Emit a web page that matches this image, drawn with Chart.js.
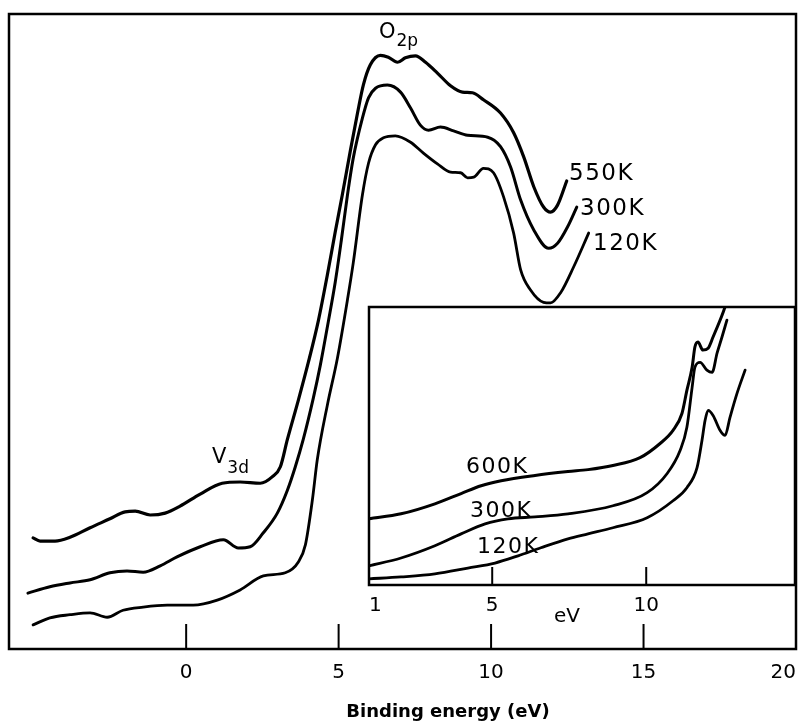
<!DOCTYPE html>
<html>
<head>
<meta charset="utf-8">
<script src="https://cdn.jsdelivr.net/npm/chart.js@4.4.1/dist/chart.umd.min.js"></script>
<style>
  html, body { margin: 0; padding: 0; background: #fff; }
  #wrap { position: relative; width: 803px; height: 722px; }
  #wrap canvas { position: absolute; left: 0; top: 0; }
</style>
</head>
<body>
<div id="wrap">
  <canvas id="mainChart" width="803" height="722"></canvas>
  <canvas id="insetChart" width="803" height="722"></canvas>
</div>
<script>
// Main spectra: binding energy (eV) vs intensity (arb. units, 0-100)
const energy550 = [-5.02, -4.79, -4.30, -3.81, -3.15, -2.50, -2.00, -1.67, -1.18, -0.69,
    -0.20, 0.46, 1.18, 1.77, 2.43, 2.82, 3.09, 3.32, 3.68, 4.01,
    4.34, 4.63, 4.89, 5.12, 5.39, 5.62, 5.81, 6.04, 6.37, 6.63,
    6.93, 7.19, 7.52, 7.85, 8.24, 8.67, 9.06, 9.39, 9.75, 10.31,
    10.74, 11.07, 11.40, 11.72, 11.95, 12.18, 12.48];
const counts550 = [17.5, 17.0, 17.0, 17.6, 19.1, 20.5, 21.6, 21.7, 21.1, 21.4,
    22.5, 24.4, 26.1, 26.3, 26.1, 27.1, 28.7, 33.0, 39.2, 45.2,
    51.8, 58.9, 65.7, 71.5, 78.6, 84.4, 88.8, 92.0, 93.5, 93.2,
    92.4, 93.1, 93.4, 92.4, 90.7, 88.7, 87.7, 87.6, 86.5, 84.4,
    81.3, 77.5, 72.8, 69.6, 68.8, 69.9, 73.7];

const energy300 = [-5.19, -4.47, -3.81, -3.15, -2.50, -1.94, -1.41, -0.85, -0.30, 0.46,
    1.22, 1.71, 2.10, 2.53, 2.99, 3.32, 3.58, 3.84, 4.17, 4.40,
    4.66, 4.89, 5.09, 5.29, 5.48, 5.78, 5.98, 6.21, 6.60, 7.03,
    7.36, 7.68, 7.95, 8.34, 8.77, 9.23, 9.89, 10.31, 10.64, 10.97,
    11.40, 11.89, 12.18, 12.51, 12.81];
const counts300 = [8.8, 9.8, 10.4, 10.9, 12.0, 12.3, 12.1, 13.1, 14.5, 16.1,
    17.2, 15.9, 16.1, 18.3, 21.4, 25.0, 28.7, 33.0, 39.5, 44.7,
    51.5, 57.8, 64.4, 71.5, 77.3, 83.6, 86.8, 88.3, 88.8, 87.7,
    85.2, 82.5, 81.7, 82.2, 81.6, 80.9, 80.6, 79.1, 75.9, 70.7,
    66.0, 63.1, 63.9, 66.5, 69.6];

const energy120 = [-5.02, -4.47, -3.81, -3.15, -2.59, -2.07, -1.41, -0.62, 0.23, 1.02,
    1.77, 2.53, 3.25, 3.68, 3.91, 4.14, 4.30, 4.63, 4.96, 5.29,
    5.48, 5.78, 5.98, 6.21, 6.47, 6.86, 7.36, 7.78, 8.24, 8.67,
    9.00, 9.23, 9.43, 9.75, 10.08, 10.41, 10.74, 10.97, 11.30, 11.72,
    11.95, 12.28, 12.71, 13.20];
const counts120 = [3.8, 4.9, 5.4, 5.7, 5.0, 6.1, 6.6, 6.9, 6.9, 7.7,
    9.3, 11.5, 12.0, 13.7, 16.4, 23.5, 29.8, 38.4, 45.8, 55.0,
    60.8, 71.5, 76.5, 79.4, 80.5, 80.8, 79.8, 78.1, 76.4, 75.1,
    75.0, 74.2, 74.3, 75.7, 75.0, 71.2, 65.5, 59.7, 56.5, 54.6,
    54.5, 56.1, 60.2, 65.5];

const mainTicks = [0, 5, 10, 15, 20];

// Inset spectra: energy (eV) vs intensity (arb. units, 0-100)
const insetEnergy600 = [1.00, 2.04, 3.14, 3.99, 4.64, 5.29, 6.39, 7.46, 8.11, 8.92,
    9.80, 10.45, 10.87, 11.16, 11.32, 11.49, 11.58, 11.68, 11.84, 12.01,
    12.17, 12.40, 12.56];
const insetCounts600 = [23.8, 25.6, 29.2, 32.9, 35.7, 37.5, 39.4, 40.8, 41.5, 43.0,
    45.8, 50.9, 55.6, 61.7, 70.0, 78.3, 85.6, 87.4, 84.5, 85.2,
    89.2, 95.3, 100.0];

const insetEnergy300 = [1.00, 2.04, 3.14, 3.99, 4.77, 5.51, 6.39, 7.46, 8.92, 10.03,
    10.68, 11.10, 11.32, 11.49, 11.58, 11.75, 11.97, 12.14, 12.30, 12.46,
    12.62];
const insetCounts300 = [6.9, 9.7, 14.1, 18.4, 22.0, 23.8, 24.5, 25.6, 28.5, 33.2,
    40.1, 48.4, 56.7, 71.1, 78.3, 80.1, 77.3, 76.5, 83.4, 89.2,
    95.3];

const insetEnergy120 = [1.00, 2.04, 3.14, 4.21, 5.09, 5.84, 6.58, 7.46, 8.11, 8.92,
    10.03, 10.87, 11.32, 11.65, 11.81, 11.91, 12.01, 12.17, 12.40, 12.56,
    12.72, 12.95, 13.21];
const insetCounts120 = [2.2, 2.9, 4.0, 6.1, 7.9, 10.5, 13.4, 16.6, 18.4, 20.6,
    24.2, 30.3, 35.0, 42.2, 52.0, 59.2, 62.8, 61.0, 55.6, 53.8,
    60.3, 69.0, 77.3];

const insetTicks = [1, 5, 10];
const insetMax = 14.83;

const FONT = '"DejaVu Sans", "Noto Sans", sans-serif';

const toPoints = (xs, ys) => xs.map((x, i) => ({ x: x, y: ys[i] }));

const curve = (label, xs, ys, width) => ({
    label: label,
    data: toPoints(xs, ys),
    borderColor: '#000',
    borderWidth: width,
    pointRadius: 0,
    fill: false,
    cubicInterpolationMode: 'monotone',
    borderCapStyle: 'round',
    borderJoinStyle: 'round'
});

// write text with a subscript part
function subText(ctx, main, sub, x, y, size, subSize, drop) {
    ctx.font = size + 'px ' + FONT;
    ctx.fillText(main, x, y);
    const w = ctx.measureText(main).width;
    ctx.font = subSize + 'px ' + FONT;
    ctx.fillText(sub, x + w + 1, y + drop);
}

const mainDecor = {
    id: 'mainDecor',
    afterDraw(chart) {
        const ctx = chart.ctx;
        const a = chart.chartArea;
        const xs = chart.scales.x;
        ctx.save();
        ctx.strokeStyle = '#000';
        ctx.lineWidth = 2.5;
        ctx.strokeRect(a.left, a.top, a.right - a.left, a.bottom - a.top);

        // inward tick marks
        ctx.lineWidth = 2;
        [0, 5, 10, 15].forEach(v => {
            const px = xs.getPixelForValue(v);
            ctx.beginPath();
            ctx.moveTo(px, a.bottom);
            ctx.lineTo(px, a.bottom - 25);
            ctx.stroke();
        });

        ctx.fillStyle = '#000';
        ctx.textBaseline = 'alphabetic';
        ctx.textAlign = 'left';
        subText(ctx, 'O', '2p', 379, 38, 21, 17, 8);
        subText(ctx, 'V', '3d', 212, 463, 21, 17, 10);

        ctx.font = '23px ' + FONT;
        ctx.letterSpacing = '1.5px';
        ctx.fillText('550K', 569, 180);
        ctx.fillText('300K', 580, 215);
        ctx.fillText('120K', 593, 250);
        ctx.letterSpacing = '0px';

        ctx.font = 'bold 18px ' + FONT;
        ctx.textAlign = 'center';
        ctx.fillText('Binding energy (eV)', 448, 717);
        ctx.restore();
    }
};

const insetDecor = {
    id: 'insetDecor',
    beforeDatasetsDraw(chart) {
        const ctx = chart.ctx;
        const a = chart.chartArea;
        ctx.save();
        ctx.fillStyle = '#fff';
        ctx.fillRect(a.left, a.top, a.right - a.left, a.bottom - a.top);
        ctx.restore();
    },
    afterDraw(chart) {
        const ctx = chart.ctx;
        const a = chart.chartArea;
        const xs = chart.scales.x;
        ctx.save();
        ctx.strokeStyle = '#000';
        ctx.lineWidth = 2.5;
        ctx.strokeRect(a.left, a.top, a.right - a.left, a.bottom - a.top);

        ctx.lineWidth = 2;
        [5, 10].forEach(v => {
            const px = xs.getPixelForValue(v);
            ctx.beginPath();
            ctx.moveTo(px, a.bottom);
            ctx.lineTo(px, a.bottom - 18);
            ctx.stroke();
        });

        ctx.fillStyle = '#000';
        ctx.textAlign = 'left';
        ctx.font = '22px ' + FONT;
        ctx.letterSpacing = '1.5px';
        ctx.fillText('600K', 466, 473);
        ctx.fillText('300K', 470, 517);
        ctx.fillText('120K', 477, 553);
        ctx.letterSpacing = '0px';

        ctx.font = '20px ' + FONT;
        ctx.textAlign = 'center';
        ctx.fillText('eV', 567, 622);
        ctx.restore();
    }
};

new Chart(document.getElementById('mainChart'), {
    type: 'line',
    data: {
        datasets: [
            curve('550K', energy550, counts550, 3.2),
            curve('300K', energy300, counts300, 3),
            curve('120K', energy120, counts120, 2.8)
        ]
    },
    options: {
        responsive: false,
        animation: false,
        layout: { padding: { left: 9, right: 7, top: 14, bottom: 33 } },
        plugins: { legend: { display: false }, tooltip: { enabled: false } },
        scales: {
            x: {
                type: 'linear',
                min: -5.81,
                max: 20,
                grid: { display: false },
                border: { display: false },
                afterBuildTicks: (scale) => {
                    scale.ticks = [{ value: -5.81 }].concat(mainTicks.map(v => ({ value: v })));
                },
                ticks: {
                    align: 'inner',
                    autoSkip: false,
                    maxRotation: 0,
                    padding: 4,
                    color: '#000',
                    font: { family: FONT, size: 20 },
                    callback: (v) => mainTicks.includes(v) ? String(v) : ''
                }
            },
            y: { display: false, min: 0, max: 100 }
        }
    },
    plugins: [mainDecor]
});

new Chart(document.getElementById('insetChart'), {
    type: 'line',
    data: {
        datasets: [
            curve('600K', insetEnergy600, insetCounts600, 3),
            curve('300K', insetEnergy300, insetCounts300, 2.8),
            curve('120K', insetEnergy120, insetCounts120, 2.8)
        ]
    },
    options: {
        responsive: false,
        animation: false,
        layout: { padding: { left: 369, right: 8, top: 307, bottom: 103 } },
        plugins: { legend: { display: false }, tooltip: { enabled: false } },
        scales: {
            x: {
                type: 'linear',
                min: 1,
                max: insetMax,
                grid: { display: false },
                border: { display: false },
                afterBuildTicks: (scale) => {
                    scale.ticks = insetTicks.map(v => ({ value: v })).concat([{ value: insetMax }]);
                },
                ticks: {
                    align: 'inner',
                    autoSkip: false,
                    maxRotation: 0,
                    padding: 1,
                    color: '#000',
                    font: { family: FONT, size: 20 },
                    callback: (v) => insetTicks.includes(v) ? String(v) : ''
                }
            },
            y: { display: false, min: 0, max: 100 }
        }
    },
    plugins: [insetDecor]
});
</script>
</body>
</html>
